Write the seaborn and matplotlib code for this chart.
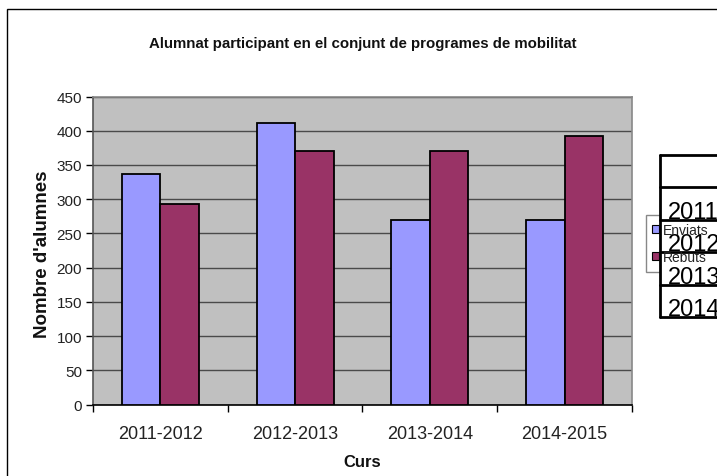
import pandas as pd
import matplotlib
matplotlib.use("Agg")
import matplotlib.pyplot as plt
from matplotlib.patches import Rectangle
from matplotlib.lines import Line2D
import seaborn as sns

# data
cursos = ["2011-2012", "2012-2013", "2013-2014", "2014-2015"]
enviats = [337, 411, 269, 269]
rebuts = [293, 371, 370, 393]
series = ["Enviats", "Rebuts"]
table_rows = ["2011", "2012", "2013", "2014"]

PALETTE = {"Enviats": "#9999FF", "Rebuts": "#993366"}

df = pd.DataFrame({
    "Curs": cursos * 2,
    "Nombre": enviats + rebuts,
    "Tipus": [series[0]] * len(cursos) + [series[1]] * len(cursos),
})

sns.set_style("white")
plt.rcParams["font.family"] = ["Liberation Sans", "DejaVu Sans"]

W, H = 717, 477
fig = plt.figure(figsize=(W / 100, H / 100), dpi=100)


def fx(px):
    return px / W


def fy(py):
    return 1 - py / H


# outer chart frame (runs off the right/bottom edge)
fig.patches.append(Rectangle((fx(7), -0.2), 1.2, fy(10) + 0.2, transform=fig.transFigure,
                             fill=False, edgecolor="black", linewidth=1.0, zorder=0))

ax = fig.add_axes([fx(93), fy(405.5), fx(632) - fx(93), fy(97.5) - fy(405.5)])
ax.set_facecolor("#C0C0C0")

sns.barplot(data=df, x="Curs", y="Nombre", hue="Tipus", palette=PALETTE,
            width=0.57, edgecolor="black", linewidth=1.3, saturation=1,
            legend=False, ax=ax, zorder=3)

ax.set_ylim(0, 450)
ax.set_xlim(-0.5, len(cursos) - 0.5)
ax.set_yticks(range(0, 451, 50))
ax.yaxis.grid(True, color="#4a4a4a", linewidth=1.0, zorder=1)
ax.set_axisbelow(True)

ax.set_xticks([i - 0.5 for i in range(len(cursos) + 1)], minor=True)
ax.tick_params(axis="x", which="major", length=0, pad=15, labelsize=13, colors="#222222")
ax.tick_params(axis="x", which="minor", length=5, width=1, color="black", direction="out")
ax.tick_params(axis="y", which="major", length=5, width=1, color="black", direction="out",
               pad=3, labelsize=11, labelcolor="#222222")
ax.tick_params(bottom=True, left=True, which="both")

for side in ["top", "right"]:
    ax.spines[side].set_color("#888888")
ax.spines["left"].set_color("#555555")
ax.spines["bottom"].set_color("black")
for s in ax.spines.values():
    s.set_linewidth(1.2)

ax.set_xlabel("Curs", fontsize=12, fontweight="bold", color="#111111")
ax.set_ylabel("Nombre d'alumnes", fontsize=13.5, fontweight="bold", color="#111111")
ax.xaxis.set_label_coords(0.5, -0.16)
ax.yaxis.set_label_coords(-0.078, 0.49)

fig.text(fx(363), fy(44), "Alumnat participant en el conjunt de programes de mobilitat",
         ha="center", va="center", fontsize=10.8, fontweight="bold", color="#111111")

# legend frame (partly hidden behind the data table)
fig.patches.append(Rectangle((fx(646), fy(273)), fx(740) - fx(646), fy(216) - fy(273),
                             transform=fig.transFigure, facecolor="white",
                             edgecolor="#888888", linewidth=1.0, zorder=1))

# data table overlapping the right side
row_lines = [156, 188, 221, 253, 286, 318]
fig.patches.append(Rectangle((fx(660), fy(318)), 0.2, fy(156) - fy(318),
                             transform=fig.transFigure, facecolor="white",
                             edgecolor="none", zorder=2))
fig.add_artist(Line2D([fx(660), fx(660)], [fy(156), fy(318)], transform=fig.transFigure,
                      color="black", linewidth=2, zorder=3))
for yl in row_lines:
    fig.add_artist(Line2D([fx(660), 1.05], [fy(yl), fy(yl)], transform=fig.transFigure,
                          color="black", linewidth=2, zorder=3))
for i, lab in enumerate(table_rows):
    fig.text(fx(668), fy(row_lines[i + 2] - 2), lab, ha="left", va="baseline",
             fontsize=17, color="black", zorder=4)

handles = [Rectangle((0, 0), 1, 1, facecolor=PALETTE[s], edgecolor="black", linewidth=0.8)
           for s in series]
leg = fig.legend(handles, series, loc="upper left", bbox_to_anchor=(fx(652), fy(224)),
                 frameon=False, fontsize=10, handlelength=0.5, handleheight=0.5,
                 handletextpad=0.3, labelspacing=0.95, borderpad=0, borderaxespad=0)
leg.set_zorder(5)
for t in leg.get_texts():
    t.set_color("#222222")

fig.savefig("out.png", dpi=100)
